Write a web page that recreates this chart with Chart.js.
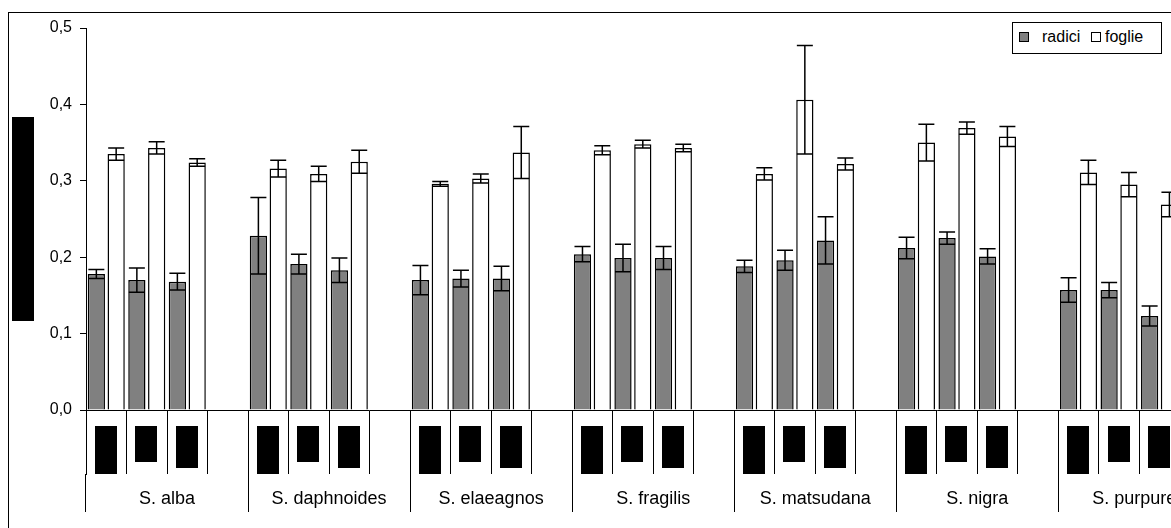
<!DOCTYPE html>
<html>
<head>
<meta charset="utf-8">
<script src="https://cdn.jsdelivr.net/npm/chart.js@4.4.1/dist/chart.umd.min.js"></script>
<style>
  html, body { margin: 0; padding: 0; background: #fff; }
  #wrap { position: relative; width: 1171px; height: 528px; overflow: hidden; background: #fff; }
  #frame { position: absolute; left: 8px; top: 12px; width: 1400px; height: 700px; border: 1px solid #000; box-sizing: border-box; }
  #c { position: absolute; left: 0; top: 0; }
  #legend { position: absolute; left: 1012px; top: 22px; width: 150px; height: 32px; border: 1px solid #000; box-sizing: border-box; background: #fff;
            font-family: "Liberation Sans", Arial, sans-serif; font-size: 16px; color: #000; }
  #legend .sw { position: absolute; top: 9px; width: 10px; height: 10px; border: 1.5px solid #000; box-sizing: border-box; }
  #legend .tx { position: absolute; top: 5px; line-height: 18px; }
</style>
</head>
<body>
<div id="wrap">
  <div id="frame"></div>
  <canvas id="c" width="1232" height="528"></canvas>
  <div id="legend"></div>
</div>
<script>
// ---- data ----
const species = ['S. alba', 'S. daphnoides', 'S. elaeagnos', 'S. fragilis', 'S. matsudana', 'S. nigra', 'S. purpurea'];
const subLabels = ['', '', '', '']; // per-species slots (3 redacted labels + empty spacer)
const radici = [0.178, 0.170, 0.168,  0.228, 0.191, 0.183,  0.170, 0.172, 0.172,  0.204, 0.199, 0.199,
                0.188, 0.196, 0.222,  0.212, 0.225, 0.201,  0.157, 0.157, 0.123];
const radiciErr = [0.006, 0.016, 0.011,  0.050, 0.013, 0.016,  0.019, 0.011, 0.016,  0.010, 0.018, 0.015,
                   0.008, 0.013, 0.031,  0.014, 0.008, 0.010,  0.016, 0.010, 0.013];
const foglie = [0.335, 0.343, 0.324,  0.316, 0.309, 0.325,  0.296, 0.303, 0.337,  0.340, 0.348, 0.343,
                0.309, 0.406, 0.322,  0.350, 0.369, 0.358,  0.311, 0.295, 0.269];
const foglieErr = [0.008, 0.008, 0.005,  0.011, 0.010, 0.015,  0.003, 0.006, 0.034,  0.006, 0.005, 0.005,
                   0.008, 0.071, 0.008,  0.024, 0.008, 0.013,  0.016, 0.016, 0.016];
const yTicks = [0, 0.1, 0.2, 0.3, 0.4, 0.5];
const seriesNames = ['radici', 'foglie'];

// ---- build slot arrays (3 values + 1 empty slot per species) ----
function expand(arr) {
  const out = [];
  for (let g = 0; g < species.length; g++) {
    for (let k = 0; k < 3; k++) out.push(arr[g * 3 + k]);
    out.push(null);
  }
  return out;
}
const labels = [];
species.forEach(() => subLabels.forEach(l => labels.push(l)));

const FONT = '"Liberation Sans", Arial, sans-serif';
const colors = ['#808080', '#ffffff'];

const errorBars = {
  id: 'errorBars',
  afterDatasetsDraw(chart) {
    const ctx = chart.ctx, y = chart.scales.y;
    ctx.save();
    ctx.strokeStyle = '#000';
    ctx.lineWidth = 1.5;
    chart.data.datasets.forEach((ds, di) => {
      const meta = chart.getDatasetMeta(di);
      ds.data.forEach((v, i) => {
        const e = ds.errors[i];
        if (v === null || e === null) return;
        const bar = meta.data[i];
        const x = bar.x, half = 8;
        const yt = y.getPixelForValue(v + e), yb = y.getPixelForValue(v - e);
        ctx.beginPath();
        ctx.moveTo(x, yt); ctx.lineTo(x, yb);
        ctx.moveTo(x - half, yt); ctx.lineTo(x + half, yt);
        ctx.moveTo(x - half, yb); ctx.lineTo(x + half, yb);
        ctx.stroke();
      });
    });
    ctx.restore();
  }
};

// redacted label boxes (sub-category labels and y-axis title are blacked out in the source)
const redaction = {
  id: 'redaction',
  afterDraw(chart) {
    const ctx = chart.ctx, x = chart.scales.x, x2 = chart.scales.x2;
    const lens = [48, 36, 42];
    ctx.save();
    // clean the seam between the two category rows (no horizontal rule there in the source)
    const seam = x2.top;
    ctx.fillStyle = '#fff';
    ctx.fillRect(x.left + 1, seam - 1, chart.width, 2);
    const slot = x.width / labels.length;
    ctx.strokeStyle = '#000';
    ctx.lineWidth = 1;
    for (let i = 0; i <= labels.length; i++) {
      const p = x.left + i * slot;
      const a = Math.round(p - 0.5) + 0.5;
      ctx.beginPath();
      ctx.moveTo(a, seam - 1);
      ctx.lineTo(a, i % 4 === 0 ? seam + 1 : seam);
      ctx.stroke();
    }
    ctx.fillStyle = '#000';
    for (let i = 0; i < labels.length; i++) {
      const k = i % 4;
      if (k === 3) continue;
      const cx = x.getPixelForValue(i);
      ctx.fillRect(Math.round(cx - 11.5), 426, 22, lens[k]);
    }
    ctx.fillRect(12, 117, 22, 204);
    ctx.restore();
  }
};

new Chart(document.getElementById('c'), {
  type: 'bar',
  data: {
    labels: labels,
    datasets: [
      { label: seriesNames[0], data: expand(radici), errors: expand(radiciErr),
        backgroundColor: colors[0], borderColor: '#000', borderWidth: 1.5 },
      { label: seriesNames[1], data: expand(foglie), errors: expand(foglieErr),
        backgroundColor: colors[1], borderColor: '#000', borderWidth: 1.5 }
    ]
  },
  options: {
    responsive: false,
    devicePixelRatio: 1,
    animation: false,
    layout: { padding: { left: 0, top: 28, right: 11.7, bottom: 0 } },
    datasets: { bar: { categoryPercentage: 0.978, barPercentage: 0.87 } },
    plugins: { legend: { display: false }, tooltip: { enabled: false } },
    scales: {
      y: {
        min: 0, max: 0.5,
        afterBuildTicks: s => { s.ticks = yTicks.map(v => ({ value: v })); },
        afterFit: s => { s.width = 86; },
        border: { display: true, color: '#000', width: 1 },
        grid: { drawOnChartArea: false, drawTicks: true, tickLength: 6, color: '#000', lineWidth: 1 },
        ticks: { color: '#000', padding: 8, font: { family: FONT, size: 16 },
                 callback: v => v.toFixed(1).replace('.', ',') }
      },
      x: {
        type: 'category',
        weight: 0,
        offset: true,
        afterFit: s => { s.height = 64; },
        border: { display: true, color: '#000', width: 1 },
        grid: { offset: true, drawOnChartArea: false, drawTicks: true, tickLength: 64, color: '#000', lineWidth: 1 },
        ticks: { display: false, autoSkip: false }
      },
      x2: {
        type: 'category',
        labels: species,
        position: 'bottom',
        weight: 1,
        offset: true,
        afterFit: s => { s.height = 54; },
        border: { display: false },
        grid: { offset: true, drawOnChartArea: false, drawTicks: true, tickLength: 38, color: '#000', lineWidth: 1 },
        ticks: { color: '#000', autoSkip: false, maxRotation: 0, padding: -24, font: { family: FONT, size: 18 } }
      }
    }
  },
  plugins: [errorBars, redaction]
});

// legend (HTML overlay, from series names and colours)
const lg = document.getElementById('legend');
const pos = [[6, 29], [78, 92]];
seriesNames.forEach((n, i) => {
  const sw = document.createElement('div');
  sw.className = 'sw'; sw.style.left = pos[i][0] + 'px'; sw.style.background = colors[i];
  const tx = document.createElement('div');
  tx.className = 'tx'; tx.style.left = pos[i][1] + 'px'; tx.textContent = n;
  lg.appendChild(sw); lg.appendChild(tx);
});
</script>
</body>
</html>
